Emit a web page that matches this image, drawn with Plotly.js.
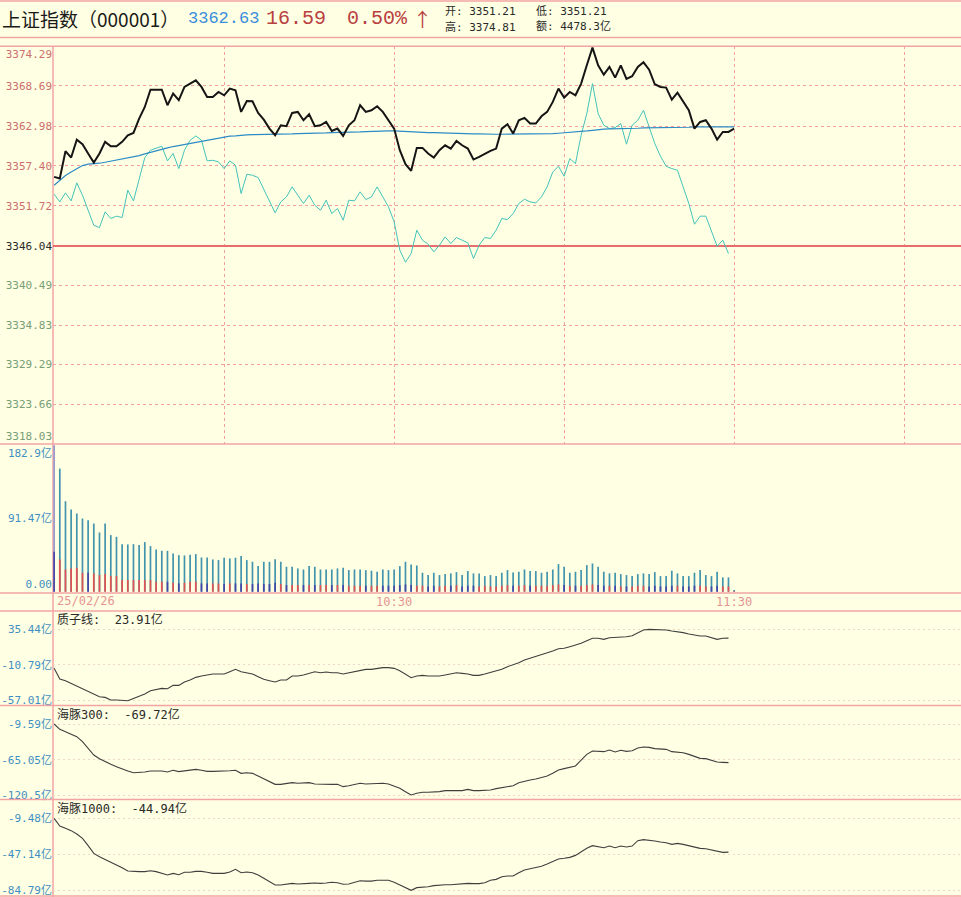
<!DOCTYPE html>
<html>
<head>
<meta charset="utf-8">
<script src="https://cdn.plot.ly/plotly-3.0.1.min.js"></script>
<style>
html,body{margin:0;padding:0;background:#FFFFE3;}
#chart{width:961px;height:897px;}
</style>
</head>
<body>
<div id="chart"></div>
<script>
// ---------------- DATA ----------------
const price = [3355.82,3355.58,3359.45,3358.55,3361.09,3360.44,3359.12,3357.84,3359.12,3360.77,
3360.15,3360.15,3360.77,3361.71,3362.04,3364.06,3365.71,3368.16,3368.16,3368.16,
3365.95,3367.60,3366.66,3368.54,3369.01,3369.48,3368.54,3367.13,3367.13,3367.83,
3367.36,3368.31,3368.07,3365.01,3366.56,3366.51,3364.86,3363.92,3362.65,3361.71,
3363.12,3362.98,3364.86,3365.01,3363.83,3364.68,3362.98,3363.12,3363.59,3362.32,
3362.65,3361.61,3363.12,3363.83,3365.95,3365.01,3365.24,3365.81,3365.01,3363.83,
3362.65,3359.59,3357.61,3356.67,3359.92,3359.92,3359.12,3358.55,3359.59,3360.29,
3359.82,3360.91,3360.29,3359.82,3358.27,3358.64,3359.12,3359.49,3359.82,3362.65,
3363.26,3361.94,3363.83,3364.16,3363.36,3363.36,3364.39,3365.01,3366.42,3368.31,
3367.03,3367.83,3367.36,3369.01,3371.60,3374.10,3371.60,3370.28,3371.37,3369.86,
3371.60,3369.67,3370.05,3371.37,3372.03,3370.99,3368.92,3368.54,3368.45,3366.75,
3367.74,3366.42,3365.24,3362.65,3363.59,3363.83,3362.65,3361.09,3362.18,3362.18,
3362.63];

const avgPrice = [3354.64,3355.35,3356.01,3356.52,3356.99,3357.42,3357.61,3357.65,3357.75,3357.89,
3358.03,3358.22,3358.31,3358.46,3358.60,3358.83,3359.07,3359.30,3359.49,3359.68,
3359.92,3360.11,3360.25,3360.44,3360.62,3360.77,3360.91,3361.05,3361.19,3361.33,
3361.47,3361.57,3361.61,3361.71,3361.75,3361.80,3361.80,3361.85,3361.85,3361.85,
3361.85,3361.90,3361.90,3361.94,3361.94,3361.99,3361.99,3362.04,3362.04,3362.08,
3362.08,3362.08,3362.13,3362.13,3362.18,3362.23,3362.27,3362.27,3362.32,3362.32,
3362.32,3362.27,3362.23,3362.18,3362.13,3362.13,3362.08,3362.08,3362.04,3362.04,
3361.99,3361.99,3361.94,3361.94,3361.90,3361.90,3361.85,3361.85,3361.85,3361.85,
3361.85,3361.85,3361.85,3361.90,3361.90,3361.90,3361.90,3361.94,3361.94,3361.99,
3362.04,3362.08,3362.13,3362.23,3362.32,3362.41,3362.51,3362.56,3362.60,3362.60,
3362.65,3362.65,3362.70,3362.70,3362.74,3362.74,3362.79,3362.79,3362.79,3362.84,
3362.84,3362.84,3362.84,3362.89,3362.89,3362.89,3362.89,3362.89,3362.89,3362.89,
3362.89];

const leadLine = [3353.37,3352.28,3353.56,3352.42,3354.97,3353.22,3351.10,3348.98,3348.65,3350.87,
3349.93,3350.26,3350.07,3353.93,3352.42,3355.58,3358.55,3359.59,3359.82,3360.15,
3358.08,3359.12,3356.99,3359.59,3361.00,3361.61,3361.00,3358.08,3358.17,3357.94,
3356.99,3358.08,3357.47,3353.46,3356.19,3356.05,3355.72,3354.03,3352.42,3350.73,
3352.28,3352.99,3354.40,3353.22,3352.05,3353.22,3351.81,3351.10,3352.52,3350.63,
3351.34,3349.69,3352.52,3352.42,3353.70,3352.61,3352.99,3354.40,3352.99,3351.58,
3349.46,3345.45,3343.75,3344.98,3348.28,3346.86,3346.30,3345.21,3346.16,3347.33,
3346.39,3347.24,3346.86,3346.49,3344.27,3346.16,3347.24,3347.10,3348.28,3349.93,
3349.78,3350.63,3352.05,3352.66,3352.28,3352.14,3352.99,3354.40,3356.52,3357.32,
3355.91,3358.41,3357.70,3361.71,3364.77,3369.01,3364.77,3363.12,3362.65,3362.79,
3363.36,3360.44,3363.12,3363.83,3365.24,3362.79,3360.53,3358.74,3357.32,3356.99,
3356.76,3354.40,3352.05,3349.12,3350.26,3350.26,3348.04,3346.01,3346.86,3344.98];

// volume per minute (亿) and its lower coloured part
const volume = [182.9,153.8,113,102.7,97.7,91.4,89.4,85.2,74,85.2,
70.7,68.6,59.4,59,59.4,58.2,62,57,52.8,51.1,
51.1,47.8,45.7,45.3,46.1,47,42.8,42.8,40.3,39.5,
42.4,41.6,42.4,44.5,39.5,37.4,32,37.4,37.4,40.7,
37.4,31.2,31.2,29.1,27.8,32,31.2,27.8,27.8,27.8,
29.1,29.9,27,27.8,27.8,27,26.2,24.9,27.8,27,
27.8,32,37.4,34.1,32.8,23.7,20.8,23.7,20.8,22,
22.9,24.5,20.8,25.8,22.9,22.9,19.5,20.8,19.5,23.7,
27,24.1,24.9,27.8,25.8,25.8,23.7,24.9,27.8,34.5,
31.2,23.7,24.9,27,33.2,35.3,31.2,24.9,22.9,23.7,
22,20.8,19.5,22,22.9,22,24.5,19.5,19.5,26.2,
22.9,19.5,19.5,23.7,27,20.8,19.5,24.9,17.9,17.9,
2];
const volumeLow = [49.9,40.3,27.8,29.1,29.9,23.7,23.7,22.9,20.8,22.0,
19.5,19.5,14.5,14.5,14.5,14.5,14.5,14.5,12.5,12.5,
12.5,11.2,10.4,11.2,12.5,12.5,10.4,10.4,10.4,10.4,
9.6,10.4,10.4,10.4,9.6,9.6,10.4,9.6,9.6,11.2,
9.6,8.3,8.3,8.3,8.3,8.3,8.3,8.3,8.3,8.3,
8.3,8.3,7.5,7.5,7.5,7.5,7.5,7.5,7.5,7.5,
7.5,8.3,9.1,8.3,7.5,7.5,6.6,7.5,6.6,7.5,
7.5,8.3,6.6,7.5,7.5,6.6,7.5,6.6,6.6,7.5,
8.3,7.5,7.5,8.3,7.5,7.5,7.5,7.5,8.3,9.1,
8.3,7.5,7.5,7.5,8.3,9.1,8.3,7.5,7.5,7.5,
6.6,6.6,6.6,7.5,7.5,6.6,7.5,6.6,6.6,7.5,
7.5,6.6,6.6,7.5,7.5,6.6,6.6,7.5,6.6,6.6,
1.0];
const volumeLowSide = "brrrrrbrrr" + "rrrrrrrrrr" + "brbrrrb" + "brrbrbbrbb" + "bbbrbrrbrb" +
  "rrbrbrrrbr" + "rbbbbbbrrb" + "brrbrbbbrr" + "rrrrbrrbrr" + "rrrbrbrrrb" + "brbrbrrrbb" +
  "bbbrbbbrrb" + "brrr";

const zhiZiLine = [-15.6,-29.6,-31.8,-35.3,-38.8,-41.8,-46.2,-49.7,-52.7,-53.6,
-57.1,-57.1,-57.1,-58.0,-54.9,-51.8,-49.2,-44.9,-43.1,-41.8,
-42.2,-37.9,-37.9,-33.5,-30.9,-27.4,-25.7,-24.3,-23.0,-23.0,
-23.0,-20.0,-16.9,-20.0,-21.3,-23.0,-26.5,-30.0,-31.8,-33.5,
-30.9,-30.9,-25.7,-25.7,-24.3,-22.2,-20.0,-21.3,-20.4,-21.3,
-21.3,-23.0,-21.3,-20.0,-17.8,-16.9,-16.9,-15.6,-14.7,-14.7,
-15.6,-18.7,-23.0,-27.8,-25.7,-24.8,-25.7,-25.7,-25.7,-24.3,
-23.0,-21.3,-22.2,-23.0,-24.8,-24.8,-23.0,-21.3,-19.1,-16.9,
-13.4,-11.3,-8.2,-4.7,-2.5,-0.3,2.7,4.9,7.1,10.1,
10.6,12.7,14.9,17.1,20.6,23.7,23.7,22.3,24.5,24.9,
25.8,25.8,27.1,31.1,34.6,35.4,35.4,35.4,34.6,33.3,
32.4,31.1,29.3,28.0,26.7,26.7,24.9,22.3,23.7,23.91];

const haiTun300 = [-9.6,-17.9,-21.5,-25.1,-29.3,-37.1,-47.4,-57.8,-63.5,-68.2,
-72.3,-75.9,-79.6,-82.7,-85.3,-85.3,-84.2,-82.7,-82.7,-82.7,
-84.2,-81.6,-83.7,-82.2,-81.1,-80.1,-81.6,-83.2,-83.2,-83.2,
-83.2,-82.2,-81.6,-86.3,-85.3,-86.3,-90.4,-94.6,-99.3,-103.4,
-103.4,-101.8,-100.8,-101.8,-101.8,-100.8,-102.9,-103.4,-103.4,-103.4,
-103.4,-107.0,-105.5,-103.4,-101.8,-102.9,-102.4,-101.8,-101.8,-102.9,
-106.0,-109.6,-114.8,-120.0,-117.4,-115.8,-115.8,-115.8,-114.8,-113.2,
-113.2,-113.2,-113.2,-111.2,-113.2,-113.2,-113.2,-112.2,-110.1,-108.6,
-107.0,-105.5,-100.8,-98.2,-96.7,-95.1,-93.0,-90.4,-86.3,-81.1,
-79.0,-77.0,-74.9,-65.6,-56.8,-51.6,-51.6,-52.6,-50.0,-53.1,
-50.5,-52.1,-51.1,-46.9,-45.4,-45.9,-47.9,-49.0,-49.0,-52.6,
-53.1,-54.2,-56.8,-59.3,-63.0,-63.5,-65.6,-68.7,-69.2,-69.72];

const haiTun1000 = [-9.5,-17.5,-20.0,-22.4,-26.0,-30.5,-38.2,-46.3,-49.8,-52.6,
-55.4,-58.2,-61.3,-64.8,-65.5,-65.5,-65.5,-64.5,-65.5,-67.3,
-69.0,-67.3,-68.7,-66.2,-66.2,-65.2,-65.2,-66.2,-67.3,-67.3,
-67.3,-65.9,-63.1,-66.6,-65.9,-66.6,-69.0,-72.5,-76.4,-79.5,
-79.5,-78.5,-77.8,-78.5,-77.8,-77.8,-77.4,-77.8,-77.4,-76.7,
-77.1,-78.8,-78.5,-77.1,-75.0,-75.4,-75.4,-74.6,-74.6,-74.6,
-76.7,-79.5,-83.0,-85.1,-82.3,-82.0,-81.3,-80.2,-79.5,-79.2,
-79.2,-78.8,-78.1,-77.8,-78.1,-78.1,-77.1,-74.6,-73.6,-70.8,
-70.1,-70.1,-66.6,-63.8,-62.4,-61.0,-59.9,-57.5,-55.0,-52.2,
-51.5,-50.5,-48.4,-44.5,-41.0,-38.2,-39.3,-40.3,-38.6,-40.3,
-38.6,-39.6,-38.6,-33.0,-31.9,-32.2,-33.3,-34.4,-35.1,-36.8,
-35.8,-36.8,-38.2,-39.9,-41.0,-41.4,-42.8,-44.5,-45.2,-44.94];

// axis ticks / labels
const priceTicksUp = [3368.69, 3362.98, 3357.40, 3351.72];
const priceTop = 3374.29, prevClose = 3346.04, priceBottom = 3318.03;
const priceTicksDown = [3340.49, 3334.83, 3329.29, 3323.66];
const volTop = 182.9, volMid = 91.47;
const zzTicks = [35.44, -10.79, -57.01];
const h300Ticks = [-9.59, -65.05, -120.5];
const h1000Ticks = [-9.48, -47.14, -84.79];
const timeTickVals = [60, 120];
const timeTickText = ['10:30', '11:30'];
const dateLabel = '25/02/26';

// ---------------- GEOMETRY / STYLE ----------------
const W = 961, H = 897, L = 53;
const py = p => (H - p) / H;          // pixel row -> paper y
const px = p => (p - L) / (W - L);    // pixel col -> paper x
const XMAX = (W - L) / (170 / 30);    // 170 px per 30 minutes
const idx = arr => arr.map((_, i) => i);

const BG = '#FFFFE3';
const FRAME = '#F2A4A4';
const GRID = '#F0A0A0';
const GRID2 = '#EED6C8';
const RED = '#CC6E6E', GREEN = '#789E78', BLUE = '#3F8FC2';
const MONO = "'DejaVu Sans Mono', 'Noto Sans CJK SC', monospace";
const fmt2 = v => v.toFixed(2);

const traces = [
  {x: idx(leadLine), y: leadLine, xaxis: 'x', yaxis: 'y', type: 'scatter', mode: 'lines',
   line: {color: '#43C3B9', width: 1}, hoverinfo: 'skip'},
  {x: idx(avgPrice), y: avgPrice, xaxis: 'x', yaxis: 'y', type: 'scatter', mode: 'lines',
   line: {color: '#2D8BC6', width: 1.2}, hoverinfo: 'skip'},
  {x: idx(price), y: price, xaxis: 'x', yaxis: 'y', type: 'scatter', mode: 'lines',
   line: {color: '#151515', width: 2}, hoverinfo: 'skip'},
  {x: idx(volume), y: volume, xaxis: 'x2', yaxis: 'y6', type: 'bar', width: 0.3,
   marker: {color: volume.map((_, i) => i === 0 ? '#9898CC' : '#4294AE'), line: {width: 0}}, hoverinfo: 'skip'},
  {x: idx(volumeLow), y: volumeLow, xaxis: 'x2', yaxis: 'y6', type: 'bar', width: 0.3,
   marker: {color: volumeLowSide.split('').map(c => c === 'r' ? '#E25252' : '#4646A8'), line: {width: 0}}, hoverinfo: 'skip'},
  {x: idx(zhiZiLine), y: zhiZiLine, xaxis: 'x3', yaxis: 'y9', type: 'scatter', mode: 'lines',
   line: {color: '#3F3F3F', width: 1.1}, hoverinfo: 'skip'},
  {x: idx(haiTun300), y: haiTun300, xaxis: 'x4', yaxis: 'y10', type: 'scatter', mode: 'lines',
   line: {color: '#3F3F3F', width: 1.1}, hoverinfo: 'skip'},
  {x: idx(haiTun1000), y: haiTun1000, xaxis: 'x5', yaxis: 'y11', type: 'scatter', mode: 'lines',
   line: {color: '#3F3F3F', width: 1.1}, hoverinfo: 'skip'}
];
// empty carriers so the overlaid label axes get drawn
[['x', 'y2'], ['x', 'y3'], ['x', 'y4'], ['x', 'y5'], ['x2', 'y7'], ['x2', 'y8']].forEach(p => {
  traces.push({x: [null], y: [null], xaxis: p[0], yaxis: p[1], type: 'scatter', mode: 'lines', hoverinfo: 'skip'});
});

const priceDomain = [py(444), py(46.3)];
const priceRange = [priceBottom, priceTop];
const baseY = {showline: false, zeroline: false, ticks: '', fixedrange: true, tickfont: {family: MONO, size: 11}};
function yax(extra) { return Object.assign({}, baseY, extra, {tickfont: Object.assign({}, baseY.tickfont, extra.tickfont || {})}); }

const volDomain = [py(593), py(444)];
const volRange = [-1.6, 184.5];

const layout = {
  width: W, height: H,
  margin: {l: L, r: 0, t: 0, b: 0, pad: 0},
  paper_bgcolor: BG, plot_bgcolor: BG,
  showlegend: false, barmode: 'overlay',
  font: {family: MONO, size: 11, color: '#222'},
  xaxis: {domain: [0, 1], range: [-0.2, XMAX - 0.2], anchor: 'y', tickvals: [30, 60, 90, 120, 150],
          showticklabels: false, showgrid: true, gridcolor: GRID, griddash: '3px,3px', gridwidth: 1,
          zeroline: false, showline: false, ticks: '', fixedrange: true},
  xaxis2: {matches: 'x', anchor: 'y6', tickvals: timeTickVals, ticktext: timeTickText,
           tickfont: {family: MONO, size: 12, color: '#E59494'}, showgrid: false, zeroline: false,
           showline: false, ticks: '', fixedrange: true},
  xaxis3: {matches: 'x', anchor: 'y9', showticklabels: false, showgrid: false, zeroline: false, ticks: ''},
  xaxis4: {matches: 'x', anchor: 'y10', showticklabels: false, showgrid: false, zeroline: false, ticks: ''},
  xaxis5: {matches: 'x', anchor: 'y11', showticklabels: false, showgrid: false, zeroline: false, ticks: ''},

  yaxis: yax({domain: priceDomain, range: priceRange, anchor: 'x', tickvals: priceTicksUp,
              ticktext: priceTicksUp.map(fmt2), tickfont: {color: RED},
              showgrid: true, gridcolor: GRID, griddash: '3px,3px', gridwidth: 1}),
  yaxis2: yax({overlaying: 'y', anchor: 'x', range: priceRange, tickvals: [priceTop], ticktext: [fmt2(priceTop)],
               ticklabelposition: 'outside bottom', tickfont: {color: RED}, showgrid: false}),
  yaxis3: yax({overlaying: 'y', anchor: 'x', range: priceRange, tickvals: [prevClose], ticktext: [fmt2(prevClose)],
               tickfont: {color: '#2A2A2A'}, showgrid: true, gridcolor: '#E86E6E', gridwidth: 1.6, griddash: 'solid'}),
  yaxis4: yax({overlaying: 'y', anchor: 'x', range: priceRange, tickvals: priceTicksDown,
               ticktext: priceTicksDown.map(fmt2), tickfont: {color: GREEN},
               showgrid: true, gridcolor: GRID, griddash: '3px,3px', gridwidth: 1}),
  yaxis5: yax({overlaying: 'y', anchor: 'x', range: priceRange, tickvals: [priceBottom], ticktext: [fmt2(priceBottom)],
               ticklabelposition: 'outside top', tickfont: {color: GREEN}, showgrid: false}),

  yaxis6: yax({domain: volDomain, range: volRange, anchor: 'x2', tickvals: [volMid], ticktext: [volMid + '亿'],
               tickfont: {color: BLUE}, showgrid: false}),
  yaxis7: yax({overlaying: 'y6', anchor: 'x2', range: volRange, tickvals: [volTop], ticktext: [volTop + '亿'],
               ticklabelposition: 'outside bottom', tickfont: {color: BLUE}, showgrid: false}),
  yaxis8: yax({overlaying: 'y6', anchor: 'x2', range: volRange, tickvals: [0], ticktext: ['0.00'],
               ticklabelposition: 'outside top', tickfont: {color: BLUE}, showgrid: false}),

  yaxis9: yax({domain: [py(705.5), py(611)], range: [-64.2, 59.4], anchor: 'x3', tickvals: zzTicks,
               ticktext: zzTicks.map(v => fmt2(v) + '亿'), tickfont: {color: BLUE},
               showgrid: true, gridcolor: GRID2, griddash: '2px,3px'}),
  yaxis10: yax({domain: [py(799.5), py(705.5)], range: [-127.0, 19.2], anchor: 'x4', tickvals: h300Ticks,
                ticktext: h300Ticks.map(v => (Math.abs(v) >= 100 ? v.toFixed(1) : fmt2(v)) + '亿'), tickfont: {color: BLUE},
                showgrid: true, gridcolor: GRID2, griddash: '2px,3px'}),
  yaxis11: yax({domain: [py(896.5), py(799.5)], range: [-91.6, 10.3], anchor: 'x5', tickvals: h1000Ticks,
                ticktext: h1000Ticks.map(v => fmt2(v) + '亿'), tickfont: {color: BLUE},
                showgrid: true, gridcolor: GRID2, griddash: '2px,3px'}),
  shapes: [],
  annotations: []
};

// frame lines
[1, 37.5, 46.3, 444, 593, 611, 705.5, 799.5, 896].forEach(r => {
  layout.shapes.push({type: 'line', xref: 'paper', yref: 'paper', x0: px(0), x1: 1, y0: py(r), y1: py(r),
                      line: {color: FRAME, width: 1.5}, layer: 'above'});
});
layout.shapes.push({type: 'line', xref: 'paper', yref: 'paper', x0: 0, x1: 0, y0: py(46.3), y1: py(897),
                    line: {color: FRAME, width: 1.5}, layer: 'below'});

// header
const ann = (text, xpx, ypx, size, color, family, anchor) => layout.annotations.push({
  text: text, xref: 'paper', yref: 'paper', x: px(xpx), y: py(ypx), xanchor: anchor || 'left', yanchor: 'middle',
  showarrow: false, font: {size: size, color: color, family: family || MONO}
});
const CJK = "'Noto Sans CJK SC', sans-serif";
ann('上证指数（000001）', 0, 18.5, 19, '#1A1A1A', CJK);
ann('3362.63', 186, 19, 17, '#3A8EDB', "'Liberation Mono', monospace");
ann('16.59', 264, 19, 20, '#B9403F', "'Liberation Mono', monospace");
ann('0.50%', 345, 19, 20, '#B9403F', "'Liberation Mono', monospace");
ann('↑', 411, 19, 19, '#B9403F', CJK);
ann('开: 3351.21', 443, 11.5, 11, '#2A2A2A');
ann('低: 3351.21', 534, 11.5, 11, '#2A2A2A');
ann('高: 3374.81', 443, 27, 11, '#2A2A2A');
ann('额: 4478.3亿', 534, 27, 11, '#2A2A2A');
// date label of the time axis
ann(dateLabel, 55, 601, 12, '#E59494');
// indicator panel captions
ann('质子线:  23.91亿', 55, 619.5, 12, '#2A2A2A');
ann('海豚300:  -69.72亿', 55, 714, 12, '#2A2A2A');
ann('海豚1000:  -44.94亿', 55, 808.5, 12, '#2A2A2A');

Plotly.newPlot('chart', traces, layout, {staticPlot: true, displayModeBar: false});
</script>
</body>
</html>
